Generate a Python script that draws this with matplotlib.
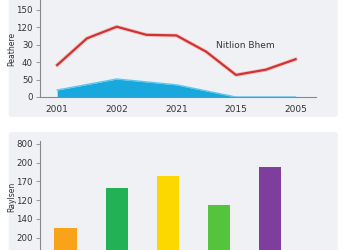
import matplotlib.pyplot as plt
from matplotlib.patches import FancyBboxPatch
import matplotlib.patheffects as pe

# top panel: line + area
year_labels = ["2001", "2002", "2021", "2015", "2005"]
line_x = [0, 0.5, 1, 1.5, 2, 2.5, 3, 3.5, 4]
line_y = [55, 101, 121, 107, 106, 78, 38, 47, 65]
area_x = [0, 1, 2, 3, 4]
area_y = [12, 31, 21, 0, 0]
top_ticks = [0, 30, 60, 90, 120, 150]
top_tick_labels = ["0", "50", "40", "30", "120", "150"]

# bottom panel: bars
bar_tops = [10, 53, 66, 35, 75.5]
bar_colors = ["#f9a31b", "#22b155", "#fdd700", "#55c43c", "#7f3d9d"]
bottom_ticks = [0, 20, 40, 60, 80, 100]
bottom_tick_labels = ["200", "140", "120", "170", "200", "800"]

panel_bg = "#eff1f5"
tick_col = "#333333"
spine_col = "#888888"

fig = plt.figure(figsize=(3.5, 2.5), dpi=100)
fig.patch.set_facecolor("white")

for y0, h in [(0.532, 0.48), (-0.02, 0.492)]:
    fig.patches.append(FancyBboxPatch((0.025, y0), 0.94, h, boxstyle="round,pad=0,rounding_size=0.01",
                                      transform=fig.transFigure, facecolor=panel_bg,
                                      edgecolor="none", zorder=-1))

def style(ax):
    ax.set_facecolor("none")
    for s in ["top", "right"]:
        ax.spines[s].set_visible(False)
    ax.spines["left"].set_color(spine_col)
    ax.spines["bottom"].set_color(spine_col)
    ax.spines["left"].set_linewidth(0.8)
    ax.spines["bottom"].set_linewidth(0.8)
    ax.tick_params(axis="y", length=3, width=0.6, color=spine_col, labelsize=6.2,
                   labelcolor=tick_col, pad=2)

ax1 = fig.add_axes([0.114, 0.612, 0.79, 0.388])
style(ax1)
ax1.fill_between(area_x, area_y, 0, color="#18a8dd", linewidth=0, zorder=2)
ax1.plot(area_x, area_y, color="#5cc8ef", linewidth=1.0, zorder=2)
ax1.plot(line_x, line_y, color="#cf3434", linewidth=1.6, zorder=3,
         path_effects=[pe.Stroke(linewidth=2.8, foreground="#f7c4c4"), pe.Normal()])
ax1.text(3.16, 88, "Nitlion Bhem", fontsize=6.5, color=tick_col, ha="center", va="center")
ax1.set_xlim(-0.29, 4.35)
ax1.set_ylim(0, 167)
ax1.set_yticks(top_ticks)
ax1.set_yticklabels(top_tick_labels)
ax1.set_xticks(range(len(year_labels)))
ax1.set_xticklabels(year_labels)
ax1.tick_params(axis="x", length=0, labelsize=6.5, labelcolor=tick_col, pad=6)
ax1.set_ylabel("Peathere", fontsize=5.5, color=tick_col)

ax2 = fig.add_axes([0.114, -0.03, 0.79, 0.466])
style(ax2)
ymin = -21
ax2.bar(range(len(bar_tops)), [t - ymin for t in bar_tops], bottom=ymin, width=0.43,
        color=bar_colors, zorder=2)
ax2.set_xlim(-0.5, 4.9)
ax2.set_ylim(ymin, 103)
ax2.set_yticks(bottom_ticks)
ax2.set_yticklabels(bottom_tick_labels)
ax2.set_xticks([])
ax2.spines["bottom"].set_visible(False)
ax2.set_ylabel("Raylsen", fontsize=5.5, color=tick_col)
ax2.yaxis.set_label_coords(-0.085, 0.52)
ax1.yaxis.set_label_coords(-0.085, 0.5)

fig.savefig("out.png", dpi=100)
